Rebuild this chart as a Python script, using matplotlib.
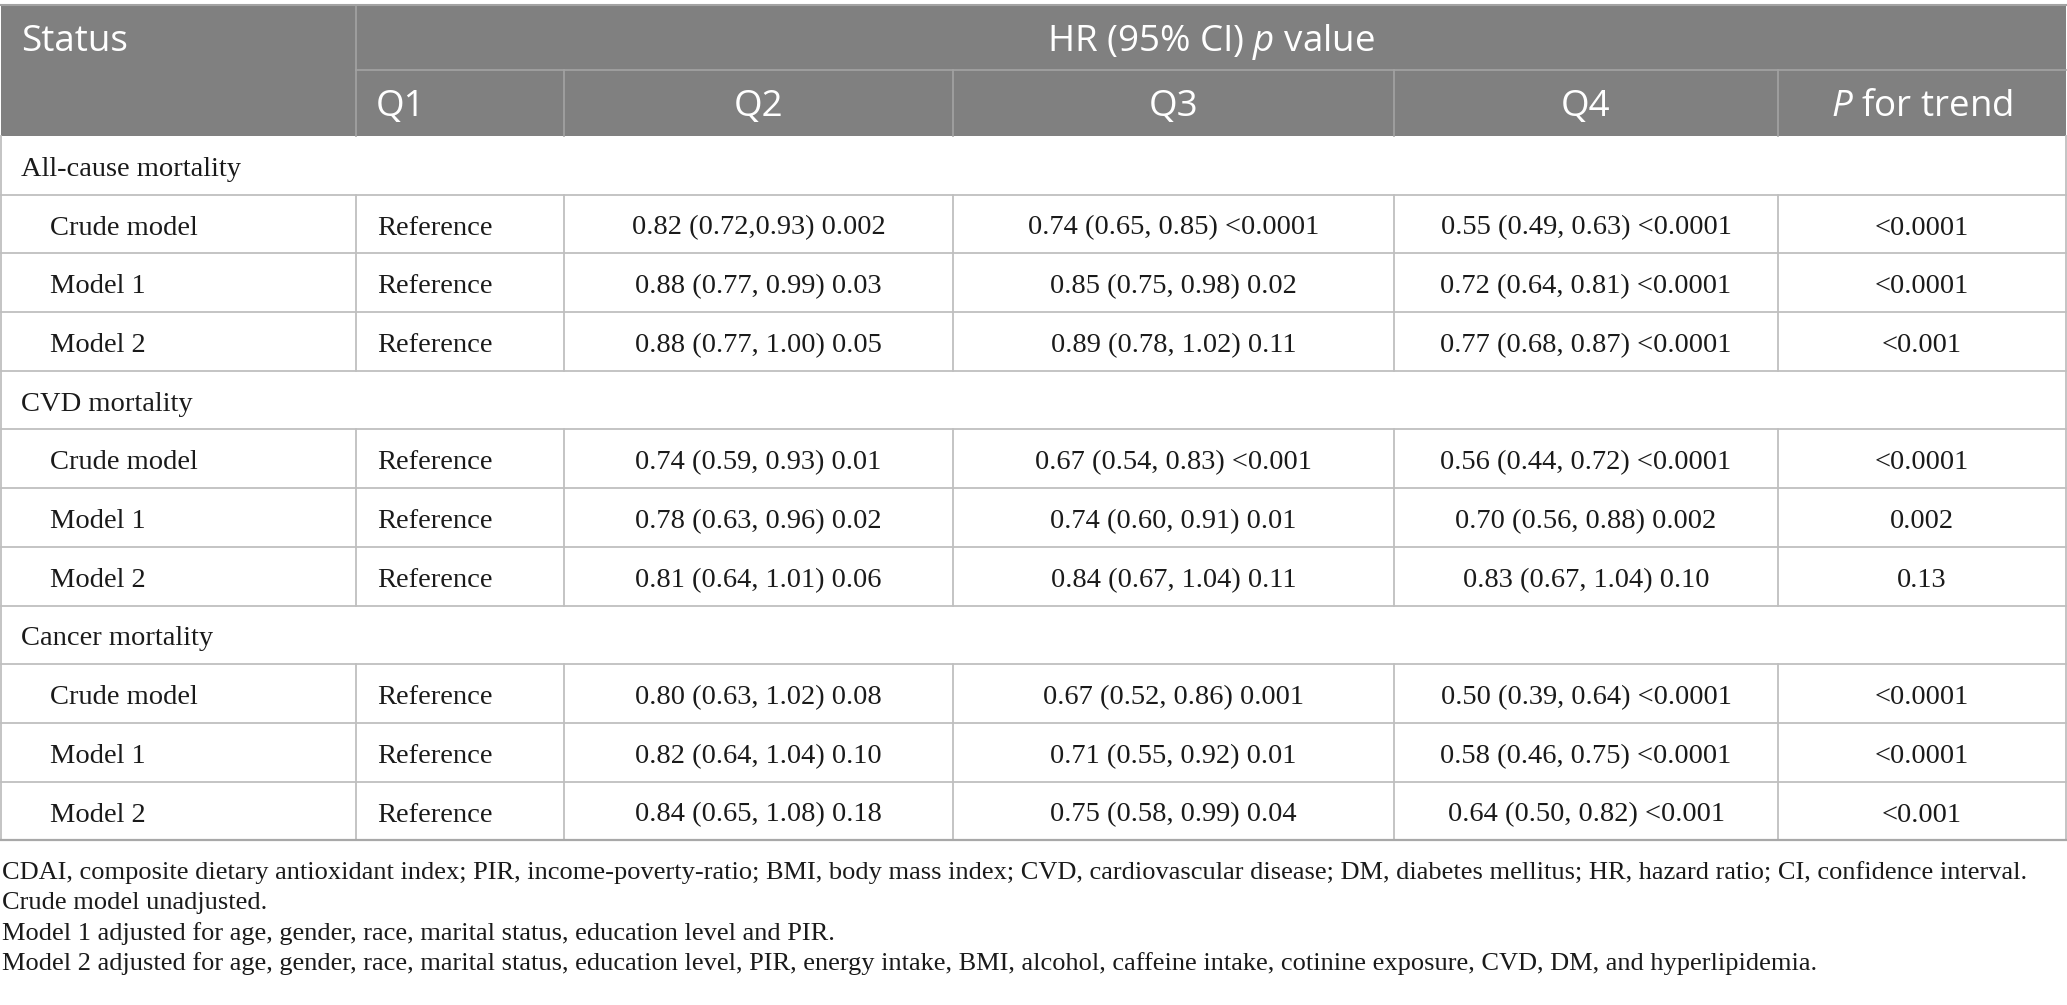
import matplotlib
matplotlib.use("Agg")
import matplotlib.pyplot as plt
from matplotlib.patches import Rectangle

plt.rcParams['mathtext.fontset'] = 'custom'
plt.rcParams['mathtext.rm'] = 'Open Sans'
plt.rcParams['mathtext.it'] = 'Open Sans:italic'

# ---- table data ----
sections = ["All-cause mortality", "CVD mortality", "Cancer mortality"]
models = ["Crude model", "Model 1", "Model 2"]
q1 = "Reference"
q2 = [["0.82 (0.72,0.93) 0.002", "0.88 (0.77, 0.99) 0.03", "0.88 (0.77, 1.00) 0.05"],
      ["0.74 (0.59, 0.93) 0.01", "0.78 (0.63, 0.96) 0.02", "0.81 (0.64, 1.01) 0.06"],
      ["0.80 (0.63, 1.02) 0.08", "0.82 (0.64, 1.04) 0.10", "0.84 (0.65, 1.08) 0.18"]]
q3 = [["0.74 (0.65, 0.85) <0.0001", "0.85 (0.75, 0.98) 0.02", "0.89 (0.78, 1.02) 0.11"],
      ["0.67 (0.54, 0.83) <0.001", "0.74 (0.60, 0.91) 0.01", "0.84 (0.67, 1.04) 0.11"],
      ["0.67 (0.52, 0.86) 0.001", "0.71 (0.55, 0.92) 0.01", "0.75 (0.58, 0.99) 0.04"]]
q4 = [["0.55 (0.49, 0.63) <0.0001", "0.72 (0.64, 0.81) <0.0001", "0.77 (0.68, 0.87) <0.0001"],
      ["0.56 (0.44, 0.72) <0.0001", "0.70 (0.56, 0.88) 0.002", "0.83 (0.67, 1.04) 0.10"],
      ["0.50 (0.39, 0.64) <0.0001", "0.58 (0.46, 0.75) <0.0001", "0.64 (0.50, 0.82) <0.001"]]
ptrend = [["<0.0001", "<0.0001", "<0.001"],
          ["<0.0001", "0.002", "0.13"],
          ["<0.0001", "<0.0001", "<0.001"]]
header_top = ["Status", r"HR (95% CI) $\it{p}$ value"]
header_sub = ["Q1", "Q2", "Q3", "Q4", r"$\it{P}$ for trend"]
footnotes = [
    "CDAI, composite dietary antioxidant index; PIR, income-poverty-ratio; BMI, body mass index; CVD, cardiovascular disease; DM, diabetes mellitus; HR, hazard ratio; CI, confidence interval.",
    "Crude model unadjusted.",
    "Model 1 adjusted for age, gender, race, marital status, education level and PIR.",
    "Model 2 adjusted for age, gender, race, marital status, education level, PIR, energy intake, BMI, alcohol, caffeine intake, cotinine exposure, CVD, DM, and hyperlipidemia.",
]

# ---- layout (pixels) ----
W, H = 2067, 1005
left, right = 1, 2066
cols = [left, 356, 564, 953, 1394, 1778, right]
y_top, y_mid, y_head = 5, 70, 136
row_h = 58.7

head_col = "#808080"
head_line = "#a3a3a3"
grid = "#bfbfbf"
txt = "#1a1a1a"
serif = "Liberation Serif"
sans = "Open Sans"
fs_body = 20.5
fs_head = 26.5
dy_body = 4
dy_head = 4

fig = plt.figure(figsize=(W / 100, H / 100), dpi=100)
ax = fig.add_axes([0, 0, 1, 1])
ax.set_xlim(0, W)
ax.set_ylim(H, 0)
ax.axis("off")

# header
ax.add_patch(Rectangle((left, y_top), right - left, y_head - y_top, color=head_col, lw=0))
ax.plot([left, right], [y_top, y_top], color=head_line, lw=1.5)
ax.plot([cols[1], right], [y_mid, y_mid], color=head_line, lw=1.2)
ax.plot([cols[1], cols[1]], [y_top, y_head], color=head_line, lw=1.2)
for x in cols[2:-1]:
    ax.plot([x, x], [y_mid, y_head], color=head_line, lw=1.2)

yt = (y_top + y_mid) / 2 + dy_head
ax.text(21, yt, header_top[0], color="white", fontsize=fs_head,
        family=sans, va="center", ha="left")
ax.text((cols[1] + right) / 2, yt, header_top[1], color="white",
        fontsize=fs_head, family=sans, va="center", ha="center")
ym = (y_mid + y_head) / 2 + dy_head
ax.text(cols[1] + 20, ym, header_sub[0], color="white", fontsize=fs_head, family=sans,
        va="center", ha="left")
for i, lab in enumerate(header_sub[1:]):
    cx = (cols[i + 2] + cols[i + 3]) / 2
    ax.text(cx, ym, lab, color="white", fontsize=fs_head, family=sans, va="center", ha="center")

# body
y = y_head
for s, sec in enumerate(sections):
    ax.text(21, y + row_h / 2 + dy_body, sec, fontsize=fs_body, family=serif, color=txt, va="center")
    y += row_h
    ax.plot([left, right], [y, y], color=grid, lw=1.3)
    for m, mod in enumerate(models):
        yc = y + row_h / 2 + dy_body
        ax.text(50, yc, mod, fontsize=fs_body, family=serif, color=txt, va="center")
        ax.text(cols[1] + 21, yc, q1, fontsize=fs_body, family=serif, color=txt, va="center")
        vals = [q2[s][m], q3[s][m], q4[s][m], ptrend[s][m]]
        for k, v in enumerate(vals):
            cx = (cols[k + 2] + cols[k + 3]) / 2
            ax.text(cx, yc, v, fontsize=fs_body, family=serif, color=txt, va="center", ha="center")
        for x in cols[1:-1]:
            ax.plot([x, x], [y, y + row_h], color=grid, lw=1.3)
        y += row_h
        ax.plot([left, right], [y, y], color=grid, lw=1.3)

ax.plot([left, left], [y_head, y], color=grid, lw=1.3)
ax.plot([right, right], [y_head, y], color=grid, lw=1.3)
ax.plot([left, right], [y, y], color="#a8a8a8", lw=1.6)

# footnotes
for i, f in enumerate(footnotes):
    ax.text(2, 873 + i * 30.3, f, fontsize=19, family=serif, color=txt, va="center")

fig.savefig("out.png", dpi=100)
